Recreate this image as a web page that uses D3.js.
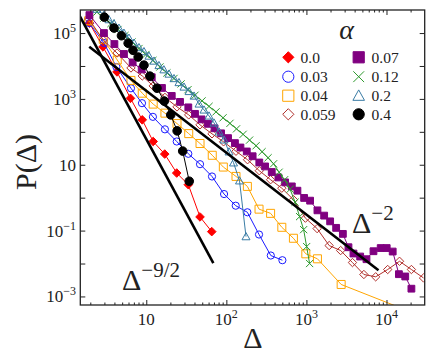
<!DOCTYPE html>
<html>
<head>
<meta charset="utf-8">
<script src="https://cdn.jsdelivr.net/npm/d3@7"></script>
<style>
  body { margin: 0; background: #fff; }
  svg { display: block; }
  text { font-family: "Liberation Serif", "DejaVu Serif", serif; fill: #222; }
</style>
</head>
<body>
<div id="chart"></div>
<script>
// values (log-log plot)
const alphaLabels = ["0.0", "0.03", "0.04", "0.059", "0.07", "0.12", "0.2", "0.4"];

const x00 = [1.95, 2.88, 4.31, 6.35, 8.91, 12.2, 17.0, 24.0, 33.5, 46.9, 65.7];
const y00 = [2.0e5, 3.8e4, 6.6e3, 1.04e3, 231, 50.8, 21.1, 5.6, 2.48, 0.26, 0.093];

const x003 = [1.95, 2.96, 4.24, 6.44, 8.84, 12.1, 17.1, 24.0, 33.5, 46.9, 66.2, 93.6, 131, 183, 256, 359, 501];
const y003 = [2.0e5, 5.0e4, 9.3e3, 2.1e3, 742, 285, 119, 50.8, 21.5, 10.4, 4.4, 1.29, 0.57, 0.36, 0.076, 0.0175, 0.0126];

const x004 = [1.905, 2.90, 4.34, 6.44, 8.91, 12.2, 17.1, 24.2, 33.9, 46.9, 66.7, 91.7, 132, 183, 256, 357, 493, 688, 983, 1373, 2716, 17140];
const y004 = [2.36e5, 6.44e4, 1.52e4, 3.64e3, 1.49e3, 695, 369, 178, 88.2, 44.2, 19.4, 8.51, 4.42, 2.20, 0.448, 0.334, 0.126, 0.0585, 0.0197, 0.0139, 0.00231, 3.95e-4];

const x0059 = [1.92, 2.90, 4.31, 6.44, 8.91, 12.2, 17.1, 24.2, 33.9, 46.9, 66.2, 92.3, 132, 184, 258, 357, 493, 688, 972, 1361, 1923, 2676, 3758, 5218, 7328, 10350, 14540, 20470, 29010];
const y0059 = [2.66e5, 6.14e4, 2.48e4, 8.7e3, 4.98e3, 2.48e3, 1.11e3, 572, 327, 163, 87, 49.8, 25.7, 14.2, 6.58, 3.51, 1.94, 0.87, 0.239, 0.115, 0.0351, 0.0248, 0.0107, 0.00464, 0.00395, 0.00658, 0.0117, 0.00658, 0.00364];

const x007 = [1.95, 2.96, 4.00, 5.26, 6.76, 8.76, 11.7, 15.7, 20.8, 26.4, 33.5, 40.6, 49.0, 59.0, 71.2, 85.9, 105, 128, 150, 180, 213, 258, 305, 369, 447, 542, 657, 772, 936, 1112, 1373, 1665, 1978, 2351, 2851, 3350, 3869, 4690, 5623, 6879, 8463, 10060, 11950, 14290, 17140, 20470];
const y007 = [3.51e5, 1.0e5, 4.64e4, 2.31e4, 1.28e4, 7.83e3, 4.55e3, 2.15e3, 1.23e3, 811, 553, 351, 239, 175, 128, 90.1, 64.4, 45.4, 33.4, 25.3, 18.1, 11.7, 8.88, 6.01, 4.12, 2.91, 2.20, 1.63, 0.98, 0.811, 0.412, 0.285, 0.191, 0.121, 0.0794, 0.0312, 0.0201, 0.0163, 0.0135, 0.0236, 0.0295, 0.0295, 0.0231, 0.00474, 0.00404, 0.00172];

const x012 = [2.42, 2.96, 3.62, 4.43, 5.42, 6.63, 8.11, 9.91, 12.1, 14.8, 18.1, 22.2, 27.2, 33.2, 40.6, 49.7, 60.8, 74.3, 90.9, 111, 134, 162, 195, 235, 279, 332, 389, 456, 534, 625, 722, 822, 923, 1006, 1096];
const y012 = [4.33e5, 2.85e5, 1.94e5, 1.28e5, 8.4e4, 5.34e4, 3.39e4, 2.23e4, 1.47e4, 9.33e3, 6.14e3, 4.18e3, 2.85e3, 1.91e3, 1.29e3, 869, 593, 404, 266, 181, 123, 84, 56, 37.7, 24.8, 16.3, 10.7, 5.93, 3.51, 1.81, 0.731, 0.266, 0.107, 0.0327, 0.01];

const x02 = [2.42, 2.96, 3.42, 3.95, 4.56, 5.26, 6.08, 7.02, 8.11, 9.36, 10.8, 12.5, 14.4, 16.6, 19.2, 22.2, 25.6, 29.6, 34.2, 39.5, 45.6, 52.6, 60.8, 70.2, 81.1, 93.6, 108, 123, 146, 176];
const y02 = [5.33e5, 3.51e5, 2.57e5, 1.94e5, 1.42e5, 1.0e5, 7.05e4, 4.98e4, 3.64e4, 2.75e4, 2.01e4, 1.42e4, 1.04e4, 7.73e3, 5.72e3, 4.18e3, 3.16e3, 2.31e3, 1.69e3, 1.23e3, 705, 464, 305, 187, 100, 57.2, 24.8, 11.5, 3.27, 0.0658];

const x04 = [2.99, 3.95, 4.90, 5.94, 6.82, 7.92, 9.36, 11.1, 13.6, 16.8, 20.2, 24.3, 28.5, 34.4];
const y04 = [3.05e5, 1.42e5, 8.28e4, 4.91e4, 2.99e4, 1.87e4, 1.06e4, 4.91e3, 2.11e3, 858, 327, 107, 26.0, 3.16];

// guide lines (end points)
const guideA_x = [1.45, 68.8];      // Delta^-9/2
const guideA_y = [3.58e5, 0.0103];
const guideB_x = [1.94, 7943];      // Delta^-2
const guideB_y = [3.85e4, 0.00627];

const xMajor = [10, 100, 1000, 10000];
const yMajorExp = [-3, -2, -1, 0, 1, 2, 3, 4, 5];
const yLabelExp = [-3, -1, 1, 3, 5];

// ---- setup
const W = 436, H = 355;
const L = 80.3, R = 424.7, T = 10, B = 305;

const x = d3.scaleLog().domain([1.5, 30000]).range([L, R]);
const y = d3.scaleLog().domain([Math.pow(10, -3.26), Math.pow(10, 5.7)]).range([B, T]);

const svg = d3.select("#chart").append("svg")
    .attr("width", W).attr("height", H);

svg.append("defs").append("clipPath").attr("id", "plotclip")
    .append("rect").attr("x", L).attr("y", T).attr("width", R - L).attr("height", B - T);

// marker shapes, centred at 0,0
function shapePath(shape, s) {
    if (shape === "circle") return `M${s},0A${s},${s} 0 1 1 ${-s},0A${s},${s} 0 1 1 ${s},0Z`;
    if (shape === "square") return `M${-s},${-s}H${s}V${s}H${-s}Z`;
    if (shape === "diamond") return `M0,${-s}L${s},0L0,${s}L${-s},0Z`;
    if (shape === "triangle") return `M0,${-s}L${s},${s * 0.8}L${-s},${s * 0.8}Z`;
    if (shape === "x") return `M${-s},${-s}L${s},${s}M${-s},${s}L${s},${-s}`;
}

const series = [
    {label: alphaLabels[0], xs: x00, ys: y00, color: "#ff0000", shape: "diamond", size: 4.3, filled: true},
    {label: alphaLabels[1], xs: x003, ys: y003, color: "#1a1aff", shape: "circle", size: 3.6, filled: false},
    {label: alphaLabels[2], xs: x004, ys: y004, color: "#ffa500", shape: "square", size: 4.0, filled: false},
    {label: alphaLabels[3], xs: x0059, ys: y0059, color: "#b0302c", shape: "diamond", size: 4.2, filled: false},
    {label: alphaLabels[4], xs: x007, ys: y007, color: "#800080", shape: "square", size: 3.4, filled: true},
    {label: alphaLabels[5], xs: x012, ys: y012, color: "#2e9a2e", shape: "x", size: 3.6, filled: false},
    {label: alphaLabels[6], xs: x02, ys: y02, color: "#3a7ca5", shape: "triangle", size: 4.0, filled: false},
    {label: alphaLabels[7], xs: x04, ys: y04, color: "#000000", shape: "circle", size: 4.3, filled: true}
];

const plot = svg.append("g").attr("clip-path", "url(#plotclip)");
const line = d3.line().x(d => x(d[0])).y(d => y(d[1]));

series.forEach(s => {
    const pts = s.xs.map((v, i) => [v, s.ys[i]]);
    const g = plot.append("g");
    g.append("path")
        .attr("d", line(pts))
        .attr("fill", "none")
        .attr("stroke", s.color)
        .attr("stroke-width", 1);
    g.selectAll("path.m")
        .data(pts)
        .join("path")
        .attr("class", "m")
        .attr("d", shapePath(s.shape, s.size))
        .attr("transform", d => `translate(${x(d[0])},${y(d[1])})`)
        .attr("fill", s.filled ? s.color : "none")
        .attr("stroke", s.color)
        .attr("stroke-width", 1);
});

// guide lines
[[guideA_x, guideA_y], [guideB_x, guideB_y]].forEach(([gx, gy]) => {
    plot.append("path")
        .attr("d", line(gx.map((v, i) => [v, gy[i]])))
        .attr("fill", "none")
        .attr("stroke", "#000")
        .attr("stroke-width", 2.6);
});

// ---- axes (ticks inward on all four sides)
const xMinor = [];
[1, 10, 100, 1000, 10000].forEach(d => {
    for (let k = 2; k <= 9; k++) {
        const v = k * d;
        if (v > 1.5 && v < 30000) xMinor.push(v);
    }
});
const yMajor = yMajorExp.map(e => Math.pow(10, e));

function styleAxis(g) {
    g.select(".domain").remove();
    g.selectAll(".tick line").attr("stroke", "#222").attr("stroke-width", 1);
    g.selectAll(".tick text").remove();
}

svg.append("g").attr("transform", `translate(0,${B})`)
    .call(d3.axisBottom(x).tickValues(xMajor).tickSize(-5).tickSizeOuter(0)).call(styleAxis);
svg.append("g").attr("transform", `translate(0,${B})`)
    .call(d3.axisBottom(x).tickValues(xMinor).tickSize(-2.5).tickSizeOuter(0)).call(styleAxis);
svg.append("g").attr("transform", `translate(0,${T})`)
    .call(d3.axisTop(x).tickValues(xMajor).tickSize(-5).tickSizeOuter(0)).call(styleAxis);
svg.append("g").attr("transform", `translate(0,${T})`)
    .call(d3.axisTop(x).tickValues(xMinor).tickSize(-2.5).tickSizeOuter(0)).call(styleAxis);
svg.append("g").attr("transform", `translate(${L},0)`)
    .call(d3.axisLeft(y).tickValues(yMajor).tickSize(-5).tickSizeOuter(0)).call(styleAxis);
svg.append("g").attr("transform", `translate(${R},0)`)
    .call(d3.axisRight(y).tickValues(yMajor).tickSize(-5).tickSizeOuter(0)).call(styleAxis);

svg.append("rect")
    .attr("x", L).attr("y", T).attr("width", R - L).attr("height", B - T)
    .attr("fill", "none").attr("stroke", "#222").attr("stroke-width", 1.3);

// tick labels as 10 with superscript exponent
function powerLabel(sel, e) {
    sel.append("tspan").text("10");
    if (e !== 1) {
        sel.append("tspan")
            .attr("dy", -7)
            .attr("font-size", 12)
            .text(e < 0 ? "\u2212" + (-e) : String(e));
    }
}

xMajor.forEach(v => {
    const t = svg.append("text")
        .attr("x", x(v)).attr("y", 325)
        .attr("text-anchor", "middle")
        .attr("font-size", 17);
    powerLabel(t, Math.round(Math.log10(v)));
});

yLabelExp.forEach(e => {
    const t = svg.append("text")
        .attr("x", 76).attr("y", y(Math.pow(10, e)) + 6)
        .attr("text-anchor", "end")
        .attr("font-size", 17);
    powerLabel(t, e);
});

// axis titles
svg.append("text")
    .attr("x", 253).attr("y", 348)
    .attr("text-anchor", "middle")
    .attr("font-size", 30)
    .text("\u0394");

svg.append("text")
    .attr("transform", "translate(36,162) rotate(-90)")
    .attr("text-anchor", "middle")
    .attr("font-size", 30)
    .text("P(\u0394)");

// slope annotations
const annA = svg.append("text").attr("x", 122).attr("y", 290).attr("font-size", 30);
annA.append("tspan").text("\u0394");
annA.append("tspan").attr("dy", -13).attr("font-size", 21).text("\u22129/2");

const annB = svg.append("text").attr("x", 352).attr("y", 233).attr("font-size", 30);
annB.append("tspan").text("\u0394");
annB.append("tspan").attr("dy", -13).attr("font-size", 21).text("\u22122");

// ---- legend
svg.append("text")
    .attr("x", 346.5).attr("y", 38.5)
    .attr("text-anchor", "middle")
    .attr("font-size", 28)
    .attr("font-style", "italic")
    .text("\u03b1");

const legRows = [57.3, 76.7, 95.7, 114.3];
const legCols = [{mx: 288.3, tx: 300.5}, {mx: 358.7, tx: 371.5}];
const legSize = {diamond: 5.6, circle: 5.6, square: 5.6, triangle: 5.8, x: 5.4};

series.forEach((s, i) => {
    const col = legCols[Math.floor(i / 4)];
    const ry = legRows[i % 4];
    svg.append("path")
        .attr("d", shapePath(s.shape, legSize[s.shape]))
        .attr("transform", `translate(${col.mx},${ry})`)
        .attr("fill", s.filled ? s.color : "none")
        .attr("stroke", s.color)
        .attr("stroke-width", 1);
    svg.append("text")
        .attr("x", col.tx).attr("y", ry + 5.5)
        .attr("font-size", 15.5)
        .text(s.label);
});
</script>
</body>
</html>
